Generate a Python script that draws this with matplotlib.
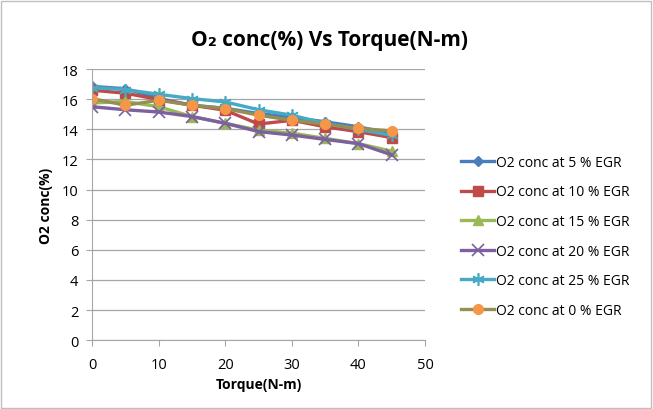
import matplotlib
matplotlib.use("Agg")
import matplotlib.pyplot as plt
from matplotlib.patches import Rectangle

plt.rcParams['font.family'] = ['Open Sans', 'DejaVu Sans']

torque = [0, 5, 10, 15, 20, 25, 30, 35, 40, 45]

egr5 = [16.85, 16.7, 16.05, 15.6, 15.4, 15.05, 14.8, 14.5, 14.17, 13.7]
egr10 = [16.6, 16.4, 15.98, 15.6, 15.27, 14.35, 14.6, 14.17, 13.84, 13.45]
egr15 = [15.75, 15.85, 15.5, 14.85, 14.4, 13.95, 13.75, 13.4, 13.05, 12.55]
egr20 = [15.5, 15.3, 15.15, 14.85, 14.4, 13.85, 13.62, 13.33, 13.05, 12.3]
egr25 = [16.77, 16.64, 16.33, 16.04, 15.82, 15.3, 14.94, 14.39, 14.0, 13.6]
egr0 = [16.04, 15.6, 15.93, 15.6, 15.38, 14.94, 14.6, 14.34, 14.06, 13.9]

labels = ["O2 conc at 5 % EGR", "O2 conc at 10 % EGR", "O2 conc at 15 % EGR",
          "O2 conc at 20 % EGR", "O2 conc at 25 % EGR", "O2 conc at 0 % EGR"]

fig = plt.figure(figsize=(6.53, 4.10), dpi=100)
ax = fig.add_axes([0.141, 0.168, 0.510, 0.661])

ax.plot(torque, egr5, color='#4A7EBB', lw=2.4, marker='D', ms=5, label=labels[0])
ax.plot(torque, egr10, color='#BE4B48', lw=2.4, marker='s', ms=7, label=labels[1])
ax.plot(torque, egr15, color='#98B954', lw=2.4, marker='^', ms=7, label=labels[2])
ax.plot(torque, egr20, color='#7D60A0', lw=2.4, marker='x', ms=8, mew=1.2, label=labels[3])
ax.plot(torque, egr25, color='#46AAC5', lw=2.4, marker=(6, 2, 0), ms=9, mew=1.2, label=labels[4])
ax.plot(torque, egr0, color='#958E55', lw=2.4, marker='o', ms=7, mfc='#F79646', mec='#F79646',
        label=labels[5])

ax.set_xlim(0, 50)
ax.set_ylim(0, 18)
ax.set_xticks(range(0, 51, 10))
ax.set_yticks(range(0, 19, 2))
ax.grid(axis='y', color='#A6A6A6', lw=0.9)
ax.set_axisbelow(True)
for s in ['top', 'right']:
    ax.spines[s].set_visible(False)
for s in ['left', 'bottom']:
    ax.spines[s].set_color('#A6A6A6')
ax.tick_params(axis='both', length=4, color='#A6A6A6', labelsize=10.5, pad=8)
ax.tick_params(axis='y', pad=6)

ax.set_xlabel("Torque(N-m)", fontsize=10, fontweight='bold', labelpad=4)
ax.set_ylabel("O2 conc(%)", fontsize=10, fontweight='bold', labelpad=6)
fig.text(0.505, 0.902, "O₂ conc(%) Vs Torque(N-m)", ha='center', va='center',
         fontsize=15, fontweight='bold')

ax.legend(loc='center left', bbox_to_anchor=(1.07, 0.383), frameon=False, fontsize=10,
          handlelength=2.4, handletextpad=0.1, labelspacing=1.05)

fig.patches.append(Rectangle((0.002, 0.003), 0.995, 0.993, transform=fig.transFigure,
                             fill=False, edgecolor='#BFBFBF', lw=1))

fig.savefig("out.png", dpi=100)
